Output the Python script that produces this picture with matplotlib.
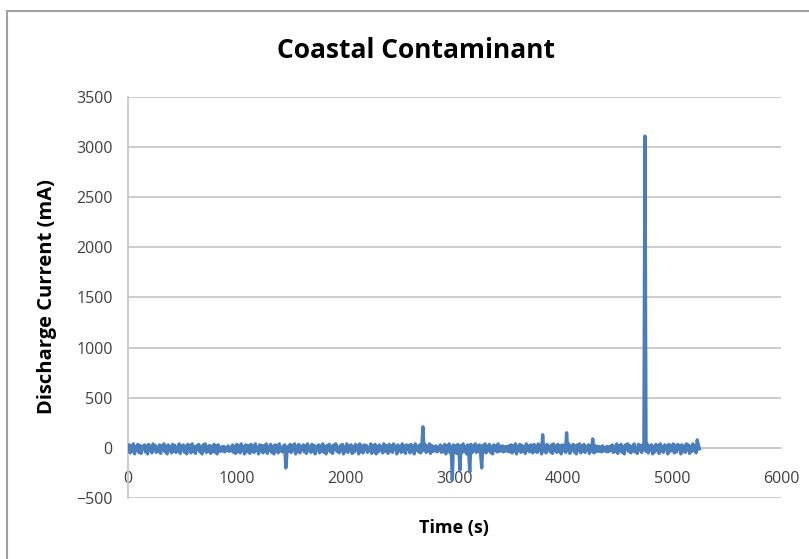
import numpy as np
import matplotlib
matplotlib.use('Agg')
import matplotlib.pyplot as plt
from matplotlib.patches import Rectangle

# discharge current sampled every 10 s (mA), one row = 250 s
time_step = 10
current = [
    -10, 30, -50, 20, -30, 40, -60, 10, -20, 35, -45, 25, -55, 15, -5, 30, -40, 20, -60, 35, -25, 10, -50, 40, -15,
    25, -45, 5, -35, 30, -55, 20, -10, 40, -40, 15, -60, 30, -20, 10, -50, 35, -30, 25, -45, 0, -35, 40, -55, 20,
    -20, 30, -45, 15, -60, 35, -10, 25, -50, 40, -30, 10, -55, 20, -15, 35, -40, 5, -60, 30, -25, 40, -45, 15, -35,
    25, -55, 10, -30, 35, -45, 20, -60, 30, -15, -35, 10, -30, 15, -40, 5, -25, 20, -35, 0, -30, 30, -45, 15, -55,
    35, -30, 20, -50, 40, -20, 10, -60, 30, -40, 25, -15, -55, 35, -35, 15, -45, 40, -25, 5, -60, 30, -20, 25, -50,
    20, -35, 40, -55, 10, -25, 35, -45, 15, -60, 30, -10, 25, -50, 40, -30, 5, -40, 20, 30, -200, -55, 15, -35, 35,
    -45, 25, -20, 40, -60, 15, -30, 35, -50, 10, -15, 30, -40, 20, -55, 40, -25, 5, -45, 35, -35, 25, -60, 15, -10,
    30, -50, 20, -30, 40, -45, 10, -60, 25, -20, 35, -40, 15, -55, 30, -15, 40, -35, 5, -50, 20, -25, 35, -60, 10,
    -30, 40, -45, 25, -15, 30, -55, 10, -40, 35, -20, 20, -60, 40, -35, 15, -50, 30, -10, 25, -45, 5, -30, 40, -55,
    20, -25, 35, -60, 15, -40, 30, -20, 10, -50, 40, -35, 25, -15, -55, 35, -30, 20, -45, 40, -10, 15, -60, 30, -25,
    5, -45, 40, -35, 20, -55, 30, -15, 25, -50, 35, -30, 10, -60, 40, -20, 15, -40, 30, -50, 20, 210, -25, 35, -45,
    15, -30, 40, -55, 25, -35, 10, -30, 20, -40, 5, -25, 30, -45, 10, -35, 35, -60, 20, -25, 40, -50, 15, -320, 30,
    -40, 20, -55, 35, -15, -220, 25, -45, 40, -30, 10, -60, 30, -20, -240, 35, -50, 15, -25, 40, -45, 20, -35, 30, -55,
    -200, 25, -30, 40, -50, 15, -20, 35, -45, 10, -60, 30, -25, 20, -40, 40, -35, 15, -30, 20, -40, 10, -30, 15, -35,
    20, -40, 30, -50, 20, -35, 40, -60, 15, -20, 35, -45, 25, -30, 10, -55, 40, -25, 20, -40, 30, -15, -50, 35, -35,
    15, -45, 40, -20, 25, -60, 130, -30, 20, -50, 35, -15, 10, -40, 30, -55, 40, -25, 15, -45, 35, -35, 20, -60, 30,
    -20, 25, -45, 150, -30, 40, -55, 10, -15, 35, -40, 20, -60, 30, -25, 40, -50, 15, -35, 35, -45, 5, -20, 30, -55,
    20, -30, 90, -50, 25, -40, 15, 15, -35, 10, -40, 20, -30, 5, -35, 15, -40, 10, -30, 20, 30, -45, 15, -35, 40,
    -55, 20, -25, 35, -45, 10, -60, 30, -15, 40, -35, 25, -50, 15, -30, 40, -40, 5, -55, 35, -20, 25, -45, 30, -10,
    3110, -35, 40, -50, 20, -25, 30, -60, 15, -40, 35, -20, 25, -55, 40, -30, 10, -45, 30, -15, 20, -60, 35, -35, 15,
    -25, 40, -50, 20, -40, 35, -15, 25, -60, 30, -30, 15, -45, 40, -20, 30, -55, 10, -35, 40, -25, 20, -50, 80, 30,
    -10,
]
time_s = np.arange(len(current)) * time_step

x_ticks = [0, 1000, 2000, 3000, 4000, 5000, 6000]
y_ticks = [-500, 0, 500, 1000, 1500, 2000, 2500, 3000, 3500]

plt.rcParams['font.family'] = ['Open Sans', 'DejaVu Sans']

fig = plt.figure(figsize=(8.09, 5.59), dpi=100)
ax = fig.add_axes([0.1582, 0.1091, 0.8072, 0.7174])

ax.plot(time_s, current, color='#4A7EBB', lw=2.4, zorder=3)

ax.set_xlim(0, 6000)
ax.set_ylim(-500, 3500)
ax.set_xticks(x_ticks)
ax.set_yticks(y_ticks)
ax.grid(axis='y', color='#C8C8C8', lw=1.3)
ax.set_axisbelow(True)

for s in ['top', 'right']:
    ax.spines[s].set_visible(False)
ax.spines['left'].set_color('#C8C8C8')
ax.spines['left'].set_linewidth(1.3)
ax.spines['bottom'].set_position(('data', 0))
ax.spines['bottom'].set_color('#C8C8C8')
ax.spines['bottom'].set_linewidth(1.3)
ax.tick_params(axis='both', length=0, labelsize=11.5, labelcolor='#404040')
ax.tick_params(axis='y', pad=11)
ax.tick_params(axis='x', pad=17)

fig.text(0.514, 0.910, 'Coastal Contaminant', ha='center', va='center',
         fontsize=19, fontweight='bold')
fig.text(0.561, 0.0555, 'Time (s)', ha='center', va='center',
         fontsize=13, fontweight='bold')
fig.text(0.058, 0.469, 'Discharge Current (mA)', ha='center', va='center',
         rotation=90, fontsize=14.5, fontweight='bold')

# chart border
fig.patches.append(Rectangle((0.0087, -0.1), 1.2, 1.08, transform=fig.transFigure,
                             fill=False, edgecolor='#A0A0A0', lw=1.5))

fig.savefig('out.png', dpi=100)
